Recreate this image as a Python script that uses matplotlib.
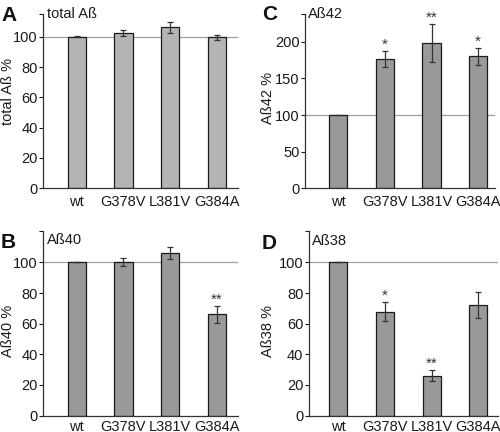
import numpy as np
import matplotlib
matplotlib.use("Agg")
import matplotlib.pyplot as plt

plt.rcParams['font.family'] = ['Liberation Sans', 'DejaVu Sans']

# data
labels = ['wt', 'G378V', 'L381V', 'G384A']

total_ab = [100, 102.6, 106.2, 99.5]
total_ab_err = [0.3, 2.0, 3.8, 1.5]
total_ab_sig = ['', '', '', '']

ab40 = [100, 100.2, 106.0, 66.0]
ab40_err = [0, 2.4, 4.0, 5.5]
ab40_sig = ['', '', '', '**']

ab42 = [100, 176, 199, 180]
ab42_err = [0, 11, 26, 12]
ab42_sig = ['', '*', '**', '*']

ab38 = [100, 67.8, 26.1, 72.0]
ab38_err = [0, 6.3, 3.4, 8.5]
ab38_sig = ['', '*', '**', '']

W, H = 500, 432
fig = plt.figure(figsize=(W / 100, H / 100), dpi=100)


def px_axes(left, top, right, bottom):
    return fig.add_axes([left / W, 1 - bottom / H, (right - left) / W, (bottom - top) / H])


def panel(box, vals, errs, sig, ymax, step, color, ylabel, title, title_xy,
          letter, letter_xy, xlim, label_xy, xpad):
    ax = px_axes(*box)
    x = np.arange(len(labels))
    ax.axhline(100, color='#a0a0a0', lw=0.9, zorder=1)
    ax.bar(x, vals, width=0.39, color=color, edgecolor='#1a1a1a', lw=0.9, zorder=2)
    ax.errorbar(x, vals, yerr=errs, fmt='none', ecolor='#333333', elinewidth=0.9,
                capsize=2, capthick=0.9, zorder=3)
    for xi, v, e, s in zip(x, vals, errs, sig):
        if s:
            ax.annotate(s, (xi, v + e), xytext=(0, 1.5), textcoords='offset points',
                        ha='center', va='baseline', fontsize=11, color='#333333',
                        annotation_clip=False)
    ax.set_xlim(*xlim)
    ax.set_ylim(0, ymax)
    ticks = list(np.arange(0, ymax - step / 2, step)) + [ymax]
    ax.set_yticks(ticks)
    ax.set_yticklabels([f'{t:g}' for t in ticks[:-1]] + [''])
    ax.set_xticks(x)
    ax.set_xticklabels(labels)
    ax.tick_params(axis='x', length=0, pad=xpad, labelsize=10.5, colors='#1a1a1a')
    ax.tick_params(axis='y', length=2.8, width=0.8, pad=1.2, labelsize=10.5,
                   colors='#1a1a1a', direction='out')
    for side in ['top', 'right']:
        ax.spines[side].set_visible(False)
    for side in ['left', 'bottom']:
        ax.spines[side].set_color('#333333')
        ax.spines[side].set_linewidth(0.9)
    ax.set_ylabel(ylabel, fontsize=10.5, color='#1a1a1a')
    ax.yaxis.set_label_coords(*label_xy)
    fig.text(title_xy[0] / W, 1 - title_xy[1] / H, title, fontsize=10.5,
             color='#1a1a1a', va='baseline', ha='left')
    fig.text(letter_xy[0] / W, 1 - letter_xy[1] / H, letter, fontsize=15,
             fontweight='bold', color='#111111', va='baseline', ha='left')
    return ax


panel((43.3, 14, 238, 188.3), total_ab, total_ab_err, total_ab_sig, 115, 20,
      '#b4b4b4', 'total Aß %', 'total Aß', (47, 18.5), 'A', (1, 21),
      (-0.714, 3.449), (-0.145, 0.557), 4.5)
panel((305, 14, 495, 188.3), ab42, ab42_err, ab42_sig, 238, 50,
      '#999999', 'Aß42 %', 'Aß42', (308, 18.5), 'C', (262, 20),
      (-0.711, 3.36), (-0.158, 0.52), 4.5)
panel((43.3, 231, 238, 415.5), ab40, ab40_err, ab40_sig, 120.5, 20,
      '#999999', 'Aß40 %', 'Aß40', (47, 244), 'B', (1, 248),
      (-0.714, 3.449), (-0.145, 0.46), 3.0)
panel((309, 231, 498, 415.5), ab38, ab38_err, ab38_sig, 120.5, 20,
      '#999999', 'Aß38 %', 'Aß38', (312, 245), 'D', (262, 249),
      (-0.626, 3.42), (-0.18, 0.457), 3.0)

fig.savefig('out.png', dpi=100)
